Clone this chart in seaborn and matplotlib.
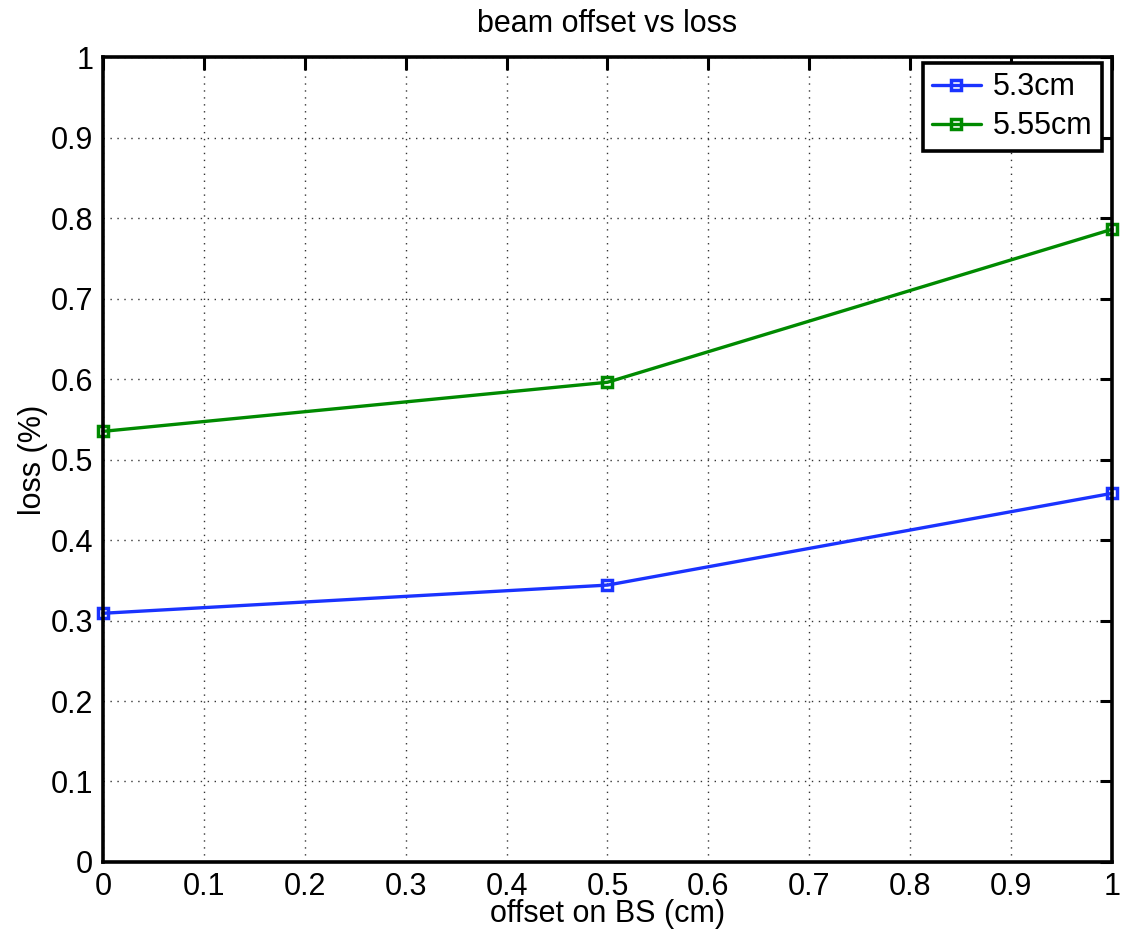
import pandas as pd
import matplotlib.pyplot as plt
import seaborn as sns

# values
offset = [0.0, 0.5, 1.0]
loss_53 = [0.309, 0.344, 0.458]
loss_555 = [0.535, 0.596, 0.786]
series_names = ['5.3cm', '5.55cm']
x_ticks = [0, 0.1, 0.2, 0.3, 0.4, 0.5, 0.6, 0.7, 0.8, 0.9, 1]
y_ticks = [0, 0.1, 0.2, 0.3, 0.4, 0.5, 0.6, 0.7, 0.8, 0.9, 1]

df = pd.DataFrame({
    'offset': offset * 2,
    'loss': loss_53 + loss_555,
    'series': [series_names[0]] * 3 + [series_names[1]] * 3,
})

sns.set_style("white")
plt.rcParams['font.family'] = ['Liberation Sans', 'DejaVu Sans']
plt.rcParams['text.color'] = 'black'
plt.rcParams['xtick.color'] = 'black'
plt.rcParams['ytick.color'] = 'black'
plt.rcParams['axes.labelcolor'] = 'black'

fig = plt.figure(figsize=(11.24, 9.34), dpi=100)
ax = fig.add_axes([0.0916, 0.0771, 0.8977, 0.8618])

palette = {'5.3cm': '#1a33ff', '5.55cm': '#008a00'}
sns.lineplot(data=df, x='offset', y='loss', hue='series', palette=palette,
             marker='s', linewidth=2.4, ax=ax)

# MATLAB-like hollow square markers
for ln in ax.lines:
    ln.set_markersize(7)
    ln.set_markerfacecolor('none')
    ln.set_markeredgecolor(ln.get_color())
    ln.set_markeredgewidth(2.5)
    ln.set_clip_on(False)

ax.set_xlim(0, 1)
ax.set_ylim(0, 1)
ax.set_xticks(x_ticks)
ax.set_yticks(y_ticks)
ax.set_xticklabels([f'{t:g}' for t in x_ticks])
ax.set_yticklabels([f'{t:g}' for t in y_ticks])
ax.grid(True, linestyle=(0, (1, 4)), color='#333333', linewidth=1.0)
ax.tick_params(direction='in', length=9, width=2.2, labelsize=22,
               top=True, right=True, pad=7)
for s in ax.spines.values():
    s.set_linewidth(2.6)
    s.set_color('black')

ax.set_title('beam offset vs loss', fontsize=22, pad=18)
ax.set_xlabel('offset on BS (cm)', fontsize=22, labelpad=-2)
ax.set_ylabel('loss (%)', fontsize=22, labelpad=2)

leg = ax.legend(loc='upper right', fontsize=22, frameon=True, fancybox=False,
                handlelength=1.6, borderpad=0.3, labelspacing=0.3,
                handletextpad=0.4, borderaxespad=0,
                bbox_to_anchor=(0.990, 0.9925))
leg.get_frame().set_edgecolor('black')
leg.get_frame().set_linewidth(2.6)
leg.get_frame().set_alpha(1)
for h in leg.get_lines():
    h.set_markersize(7)
    h.set_markerfacecolor('none')
    h.set_markeredgecolor(h.get_color())
    h.set_markeredgewidth(2.5)

plt.savefig('out.png', dpi=100)
